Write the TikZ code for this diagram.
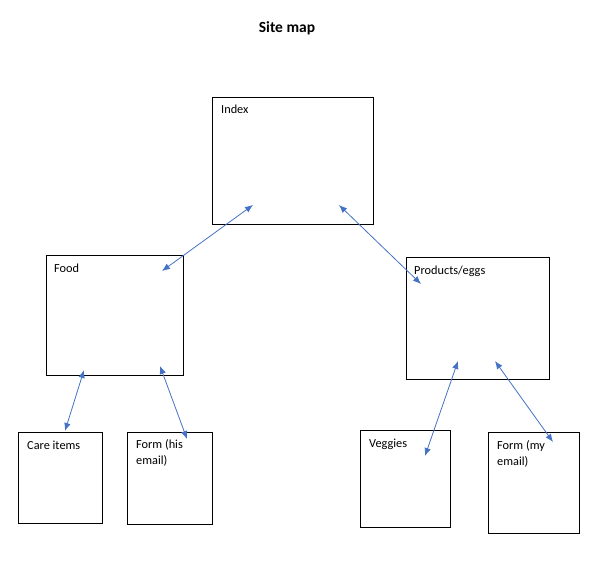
\documentclass[tikz,border=0pt]{standalone}
\usepackage{fontspec}
\setmainfont{Carlito}
\usetikzlibrary{arrows.meta}
\definecolor{arrowblue}{RGB}{68,114,196}
\begin{document}
\begin{tikzpicture}[x=1pt,y=-1pt,
  pagebox/.style={draw=black,line width=1pt,inner sep=0pt,anchor=north west},
  lbl/.style={inner sep=0pt,anchor=base west,font=\fontsize{12.3}{16}\selectfont},
  lbltwo/.style={inner sep=0pt,anchor=north west,align=left,font=\fontsize{12.3}{16}\selectfont},
  link/.style={draw=arrowblue,line width=0.8pt,{Latex[length=8pt,width=6.5pt]}-{Latex[length=8pt,width=6.5pt]}}]
\useasboundingbox (0,0) rectangle (611,563);
% title
\node[inner sep=0pt,anchor=base,font=\fontsize{15.5}{18}\selectfont\bfseries] (title) at (287,32) {Site map};
% boxes
\node[pagebox,minimum width=161pt,minimum height=127pt] (index) at (212,97) {};
\node[pagebox,minimum width=137pt,minimum height=120pt] (food) at (46,255) {};
\node[pagebox,minimum width=143pt,minimum height=122pt] (prod) at (406,257) {};
\node[pagebox,minimum width=84pt,minimum height=91pt] (care) at (18,432) {};
\node[pagebox,minimum width=85pt,minimum height=92pt] (formhis) at (127,432) {};
\node[pagebox,minimum width=90pt,minimum height=97pt] (veg) at (360,430) {};
\node[pagebox,minimum width=91pt,minimum height=101pt] (formmy) at (488,432) {};
% labels
\node[lbl] (tindex) at (221,113) {Index};
\node[lbl] (tfood) at (54,272) {Food};
\node[lbl] (tprod) at (414,274) {Products/eggs};
\node[lbl] (tcare) at (27,449) {Care items};
\node[lbltwo] (tformhis) at (136,439) {Form (his\\email)};
\node[lbl] (tveg) at (369,447) {Veggies};
\node[lbltwo] (tformmy) at (497,440) {Form (my\\email)};
% connector end points
\coordinate (i1) at (253,205);
\coordinate (f1) at (162,271);
\coordinate (i2) at (339,205);
\coordinate (p1) at (421,284);
\coordinate (f2) at (84,370);
\coordinate (c1) at (65,431);
\coordinate (f3) at (160,366);
\coordinate (h1) at (187,439);
\coordinate (p2) at (458,361);
\coordinate (v1) at (425,456);
\coordinate (p3) at (495,361);
\coordinate (m1) at (553,442);
% connectors
\draw[link] (i1) -- (f1);
\draw[link] (i2) -- (p1);
\draw[link] (f2) -- (c1);
\draw[link] (f3) -- (h1);
\draw[link] (p2) -- (v1);
\draw[link] (p3) -- (m1);
\end{tikzpicture}
\end{document}
